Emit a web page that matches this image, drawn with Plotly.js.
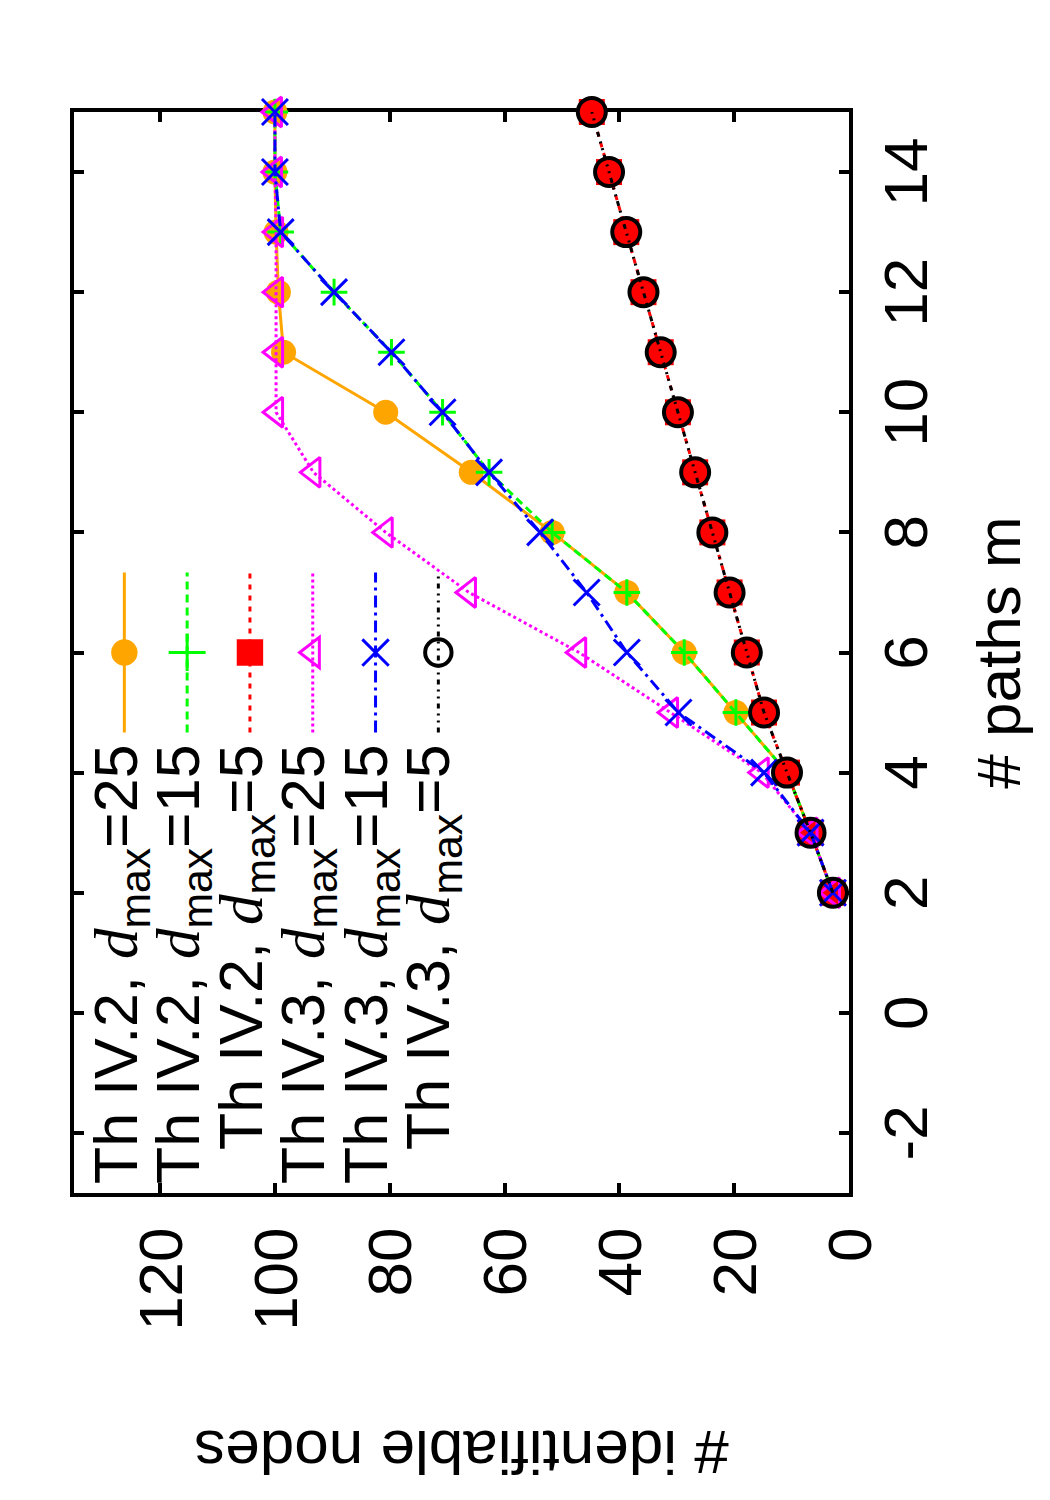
<!DOCTYPE html>
<html>
<head>
<meta charset="utf-8">
<script src="https://cdn.plot.ly/plotly-3.0.1.min.js"></script>
<style>
  html, body { margin: 0; padding: 0; background: #ffffff; }
  body { width: 1050px; height: 1500px; overflow: hidden; position: relative; }
  /* the figure is laid out landscape and turned a quarter turn to portrait */
  #plot {
    position: absolute; left: 0; top: 0;
    width: 1500px; height: 1050px;
    transform-origin: 0 0;
    transform: translate(0px, 1500px) rotate(-90deg);
  }
</style>
</head>
<body>
<div id="plot"></div>
<script>
// number of paths m
const paths = [2, 3, 4, 5, 6, 7, 8, 9, 10, 11, 12, 13, 14, 15];

// identifiable nodes, Theorem IV.2
const thIV2_d25 = [2.8, 6.7, 10.8, 19.7, 28.7, 38.7, 51.7, 65.8, 80.7, 98.5, 99.4, 99.8, 100, 100];
const thIV2_d15 = [2.8, 6.7, 10.8, 19.7, 28.7, 38.7, 51.7, 62.7, 70.8, 79.7, 89.7, 99.0, 100, 100];
const thIV2_d5  = [2.8, 6.7, 10.8, 14.8, 17.8, 20.8, 23.8, 26.8, 29.8, 32.8, 35.8, 38.8, 41.8, 44.8];

// identifiable nodes, Theorem IV.3
const thIV3_d25 = [2.8, 6.7, 15.2, 31.0, 47.0, 66.2, 80.7, 93.3, 99.8, 99.8, 99.8, 99.8, 100, 100];
const thIV3_d15 = [2.8, 6.7, 14.8, 29.7, 38.7, 45.7, 53.8, 62.7, 70.8, 79.7, 89.7, 99.0, 100, 100];
const thIV3_d5  = [2.8, 6.7, 10.8, 14.8, 17.8, 20.8, 23.8, 26.8, 29.8, 32.8, 35.8, 38.8, 41.8, 44.8];

const theorems = ['IV.2', 'IV.2', 'IV.2', 'IV.3', 'IV.3', 'IV.3'];
const dmaxValues = [25, 15, 5, 25, 15, 5];
const seriesValues = [thIV2_d25, thIV2_d15, thIV2_d5, thIV3_d25, thIV3_d15, thIV3_d5];

const xTickVals = [-2, 0, 2, 4, 6, 8, 10, 12, 14];
const xTickText = ['-2', '0', '2', '4', '6', '8', '10', '12', '14'];
const yTickVals = [0, 20, 40, 60, 80, 100, 120];

const SANS = 'Liberation Sans, Arial, Helvetica, sans-serif';
const SERIF = 'Liberation Serif, Times New Roman, serif';

// gnuplot-like styles, one per series
const styles = [
  { color: '#FFA500', dash: 'solid',                     symbol: 'circle',            size: 25, lw: 0 },
  { color: '#00FF00', dash: '8px,5px',                   symbol: 'cross-thin-open',   size: 19, lw: 3 },
  { color: '#FF0000', dash: '5px,6px',                   symbol: 'square',            size: 26, lw: 0 },
  { color: '#FF00FF', dash: '3px,3px',                   symbol: 'triangle-up-open',  size: 26, lw: 3 },
  { color: '#0000FF', dash: '12px,5px,3px,5px',          symbol: 'x-thin-open',       size: 26, lw: 3 },
  { color: '#000000', dash: '5px,5px,2px,5px,2px,5px',   symbol: 'circle-open',       size: 28, lw: 4 }
];

function seriesLabel(i) {
  return 'Th ' + theorems[i] + ', <span style="font-family:' + SERIF + '"><i>d</i></span>' +
         '<sub>max</sub>=' + dmaxValues[i];
}

const traces = seriesValues.map((vals, i) => {
  const s = styles[i];
  const marker = { symbol: s.symbol, size: s.size, color: s.color };
  if (s.lw) marker.line = { color: s.color, width: s.lw };
  return {
    x: paths, y: vals,
    type: 'scatter', mode: 'lines+markers',
    name: ' ',
    line: { color: s.color, width: 3, dash: s.dash },
    marker: marker,
    cliponaxis: false,
    hoverinfo: 'skip'
  };
});

// key text, right-aligned to the left of each sample
const keyTop = 0.9400, keyStep = 0.0806;
const keyAnnotations = seriesValues.map((v, i) => ({
  xref: 'paper', yref: 'paper',
  x: 0.417, y: keyTop - i * keyStep,
  xanchor: 'right', yanchor: 'middle',
  text: seriesLabel(i), showarrow: false,
  font: { family: SANS, size: 61, color: '#000' }
}));

const axisCommon = {
  showline: true, linecolor: '#000', linewidth: 4, mirror: 'ticks',
  ticks: 'inside', ticklen: 10, tickwidth: 4, tickcolor: '#000',
  showgrid: false, zeroline: false,
  tickfont: { family: SANS, size: 62, color: '#000' },
  layer: 'below traces'
};

const layout = {
  width: 1500, height: 1050,
  margin: { l: 307, r: 112, t: 74, b: 201, autoexpand: false },
  paper_bgcolor: '#ffffff', plot_bgcolor: '#ffffff',
  showlegend: true,
  legend: {
    x: 0.5083, xanchor: 'center', y: 0.982, yanchor: 'top',
    bgcolor: 'rgba(0,0,0,0)', borderwidth: 0,
    font: { family: SANS, size: 46 },
    itemwidth: 160, traceorder: 'normal'
  },
  xaxis: Object.assign({}, axisCommon, {
    range: [-3, 15], tickvals: xTickVals, ticktext: xTickText, ticklabelstandoff: 0,
    title: { text: '# paths m', font: { family: SANS, size: 62, color: '#000' }, standoff: 38 }
  }),
  yaxis: Object.assign({}, axisCommon, {
    range: [0, 135], tickvals: yTickVals, ticklabelstandoff: 18,
    title: { text: '# identifiable nodes', font: { family: SANS, size: 62, color: '#000' }, standoff: 80 }
  }),
  annotations: keyAnnotations
};

Plotly.newPlot('plot', traces, layout, { staticPlot: true, displayModeBar: false }).then(gd => {
  // the key labels are drawn as annotations; drop the blank legend text nodes
  gd.querySelectorAll('text.legendtext').forEach(t => {
    if (!t.textContent.trim()) t.remove();
  });
  // key symbols at the same size as the plotted points
  gd.querySelectorAll('.legendpoints path.scatterpts').forEach(p => {
    const tr = p.getAttribute('transform') || '';
    p.setAttribute('transform', tr + ' scale(1.65)');
    p.setAttribute('vector-effect', 'non-scaling-stroke');
  });
});
</script>
</body>
</html>
